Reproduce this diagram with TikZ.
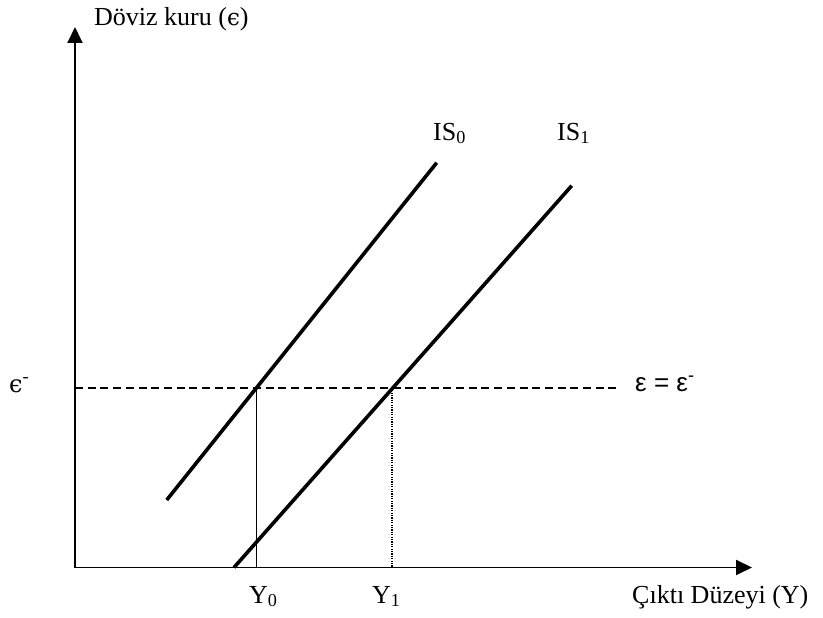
\documentclass[tikz,border=0pt]{standalone}
\usepackage{fontspec}
\setmainfont{Liberation Serif}
\newfontfamily\arialf{Liberation Sans}
\newfontfamily\dejaf{DejaVu Serif}
\newcommand{\lunep}{{\dejaf\fontsize{23}{30}\selectfont ϵ}}
\usetikzlibrary{arrows.meta}
\tikzset{
  axis/.style={line width=1.9pt,-{Triangle[length=16pt,width=15pt]}},
  isline/.style={line width=3.6pt},
  guide/.style={line width=1.8pt,dash pattern=on 8pt off 4.7pt},
  drop/.style={line width=1.3pt},
  dropdot/.style={line width=1.2pt,dash pattern=on 1.2pt off 1.2pt},
  lbl/.style={inner sep=0pt,anchor=base west,font=\fontsize{26}{30}\selectfont},
  slbl/.style={inner sep=0pt,anchor=base west,font=\fontsize{26}{30}\selectfont\arialf}
}
\begin{document}
\begin{tikzpicture}[x=1pt,y=-1pt]
\useasboundingbox (0,0) rectangle (823,618);
% coordinates
\coordinate (O) at (75,567.5);
\coordinate (ytip) at (75,27);
\coordinate (xtip) at (752,567.5);
\coordinate (a0) at (166.7,500);
\coordinate (b0) at (436.7,162.7);
\coordinate (a1) at (234,567.5);
\coordinate (b1) at (571.7,185.7);
\coordinate (gl) at (75,387.7);
\coordinate (gr) at (617,387.7);
\coordinate (P0) at (256.7,387.7);
\coordinate (Q0) at (256.7,567.5);
\coordinate (P1) at (392,387.7);
\coordinate (Q1) at (392,567.5);
% guide and drops
\draw[guide] (gl) -- (gr);
\draw[drop] (P0) -- (Q0);
\draw[dropdot] (P1) -- (Q1);
% IS curves
\draw[isline] (a0) -- (b0);
\draw[isline] (a1) -- (b1);
% axes
\draw[axis] (O) -- (ytip);
\draw[axis] (O) -- (xtip);
% labels
\node[lbl] (ylab) at (94,26) {Döviz kuru (\lunep)};
\node[lbl] (is0) at (433,140) {IS\textsubscript{0}};
\node[lbl] (is1) at (557,140) {IS\textsubscript{1}};
\node[lbl] (eps) at (9,392) {{\dejaf\fontsize{24}{30}\selectfont ϵ}\textsuperscript{-}};
\node[slbl] (epseq) at (635,391) {ε = ε\textsuperscript{-}};
\node[lbl] (y0) at (249,603) {Y\textsubscript{0}};
\node[lbl] (y1) at (372,603) {Y\textsubscript{1}};
\node[lbl] (xlab) at (632,603) {Çıktı Düzeyi (Y)};
\end{tikzpicture}
\end{document}
